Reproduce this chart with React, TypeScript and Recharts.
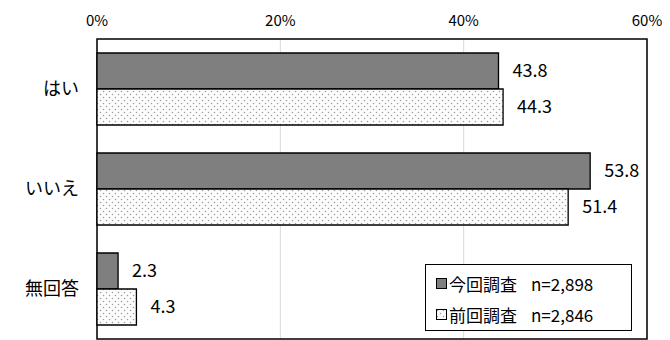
import React from 'react';
import { BarChart, Bar, XAxis, YAxis, CartesianGrid, LabelList, ReferenceArea } from 'recharts';

const categories = ['はい', 'いいえ', '無回答'];
const currentValues = [43.8, 53.8, 2.3];
const previousValues = [44.3, 51.4, 4.3];
const xTicks = [0, 20, 40, 60];
const seriesNames = ['今回調査', '前回調査'];
const sampleSizes = ['n=2,898', 'n=2,846'];

const FONT = '"Noto Sans CJK JP", "Noto Sans", sans-serif';

const data = categories.map((name, i) => ({
  name,
  current: currentValues[i],
  previous: previousValues[i],
}));

function DotPattern({ id }: { id: string }) {
  return (
    <pattern id={id} patternUnits="userSpaceOnUse" width={6} height={6}>
      <rect width={6} height={6} fill="#fcfcfc" />
      <circle cx={1.5} cy={1.5} r={0.75} fill="#9a9a9a" />
      <circle cx={4.5} cy={4.5} r={0.75} fill="#9a9a9a" />
    </pattern>
  );
}

function LegendBox() {
  return (
    <div
      style={{
        position: 'absolute',
        left: 425,
        top: 264,
        boxSizing: 'border-box',
        width: 207,
        height: 67,
        border: '1px solid #000',
        background: '#fff',
        fontFamily: FONT,
        fontSize: 17,
        color: '#000',
        padding: '3px 0 0 10px',
      }}
    >
      {seriesNames.map((s, i) => (
        <div key={s} style={{ display: 'flex', alignItems: 'center', height: 31 }}>
          <svg width={11} height={11} style={{ marginRight: 2 }}>
            <defs>
              <DotPattern id={`ldots${i}`} />
            </defs>
            <rect
              x={0.5}
              y={0.5}
              width={10}
              height={10}
              fill={i === 0 ? '#7f7f7f' : `url(#ldots${i})`}
              stroke="#000"
              strokeWidth={1}
            />
          </svg>
          <span>{s}</span>
          <span style={{ marginLeft: 14 }}>{sampleSizes[i]}</span>
        </div>
      ))}
    </div>
  );
}

export default function App() {
  return (
    <div style={{ position: 'absolute', left: 0, top: 0, width: 670, height: 340, background: '#fff' }}>
      <BarChart
        width={670}
        height={340}
        data={data}
        layout="vertical"
        margin={{ top: 0, right: 23, bottom: 1, left: 0 }}
        barCategoryGap="14%"
        barGap={0}
      >
        <defs>
          <DotPattern id="dots" />
        </defs>
        <CartesianGrid horizontal={false} stroke="#d9d9d9" strokeWidth={1} />
        <XAxis
          type="number"
          orientation="top"
          domain={[0, 60]}
          ticks={xTicks}
          tickFormatter={(v) => `${v}%`}
          axisLine={false}
          tickLine={false}
          tickSize={0}
          tickMargin={13}
          height={39}
          tick={{ fill: '#000', fontSize: 15, fontFamily: FONT }}
        />
        <YAxis
          type="category"
          dataKey="name"
          width={97}
          axisLine={false}
          tickLine={false}
          tickSize={0}
          tickMargin={18}
          tick={{ fill: '#000', fontSize: 18, fontFamily: FONT }}
        />
        <ReferenceArea x1={0} x2={60} fill="none" stroke="#000" strokeWidth={1.5} ifOverflow="visible" />
        <Bar dataKey="current" name={seriesNames[0]} fill="#7f7f7f" stroke="#000" strokeWidth={1.3} isAnimationActive={false}>
          <LabelList
            dataKey="current"
            position="right"
            offset={14}
            formatter={(v: number) => v.toFixed(1)}
            style={{ fill: '#000', fontSize: 18, fontFamily: FONT }}
          />
        </Bar>
        <Bar dataKey="previous" name={seriesNames[1]} fill="url(#dots)" stroke="#000" strokeWidth={1.3} isAnimationActive={false}>
          <LabelList
            dataKey="previous"
            position="right"
            offset={14}
            formatter={(v: number) => v.toFixed(1)}
            style={{ fill: '#000', fontSize: 18, fontFamily: FONT }}
          />
        </Bar>
      </BarChart>
      <LegendBox />
    </div>
  );
}
